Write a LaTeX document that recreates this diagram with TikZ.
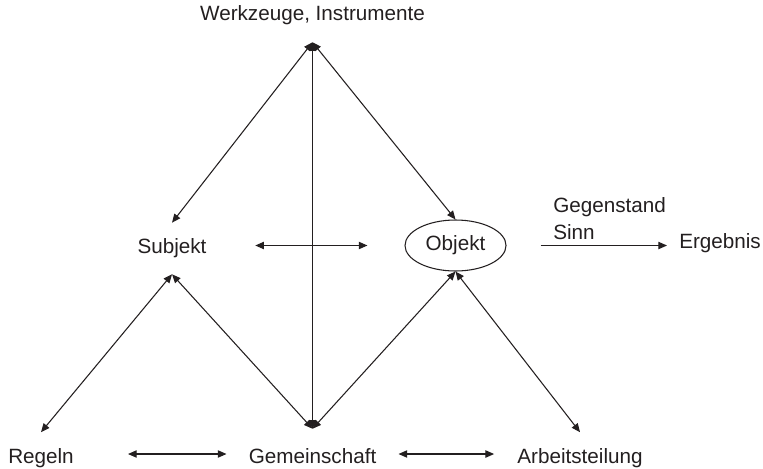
\documentclass[tikz,border=0pt]{standalone}
\usepackage{fontspec}
\setmainfont{Liberation Sans}
\usetikzlibrary{shapes.geometric, arrows.meta}
\definecolor{ink}{RGB}{35,31,32}
\tikzstyle{begriff} = [text=ink, font=\fontsize{15.5}{18}\selectfont, text height=11pt, text depth=3.3pt, inner xsep=0pt, inner ysep=12pt]
\tikzstyle{objekt} = [ellipse, draw=ink, line width=0.8pt, minimum width=75.75pt, minimum height=38.25pt, inner sep=0pt, text=ink, font=\fontsize{15.5}{18}\selectfont, text height=11pt, text depth=3.3pt]
\tikzstyle{arrow} = [draw=ink, line width=0.8pt, ->, >={Triangle[length=6.5pt,width=5.5pt]}]
\tikzstyle{biarrow} = [arrow, <->]

\begin{document}
\begin{tikzpicture}[x=0.75pt, y=-0.75pt]
        \useasboundingbox (0,0) rectangle (763,468);
        % Dreieck oben
        \node (werkzeug) [begriff, inner ysep=13.1pt] at (312.5,15) {Werkzeuge, Instrumente};
        \node (subjekt) [begriff] at (172,248.5) {Subjekt};
        \node (objekt) [objekt] at (455.5,245.5) {Objekt};
        % untere Reihe
        \node (regeln) [begriff] at (41,458) {Regeln};
        \node (gemeinschaft) [begriff, inner ysep=14.6pt] at (312.5,458) {Gemeinschaft};
        \node (arbeit) [begriff] at (580,458) {Arbeitsteilung};
        % rechts
        \node (gegenstand) [begriff, inner ysep=0pt, anchor=base west] at (553,212) {Gegenstand};
        \node (sinn) [begriff, inner ysep=0pt, anchor=base west] at (553,239) {Sinn};
        \node (ergebnis) [begriff, inner ysep=0pt, anchor=west] at (679,243) {Ergebnis};

        \draw [biarrow] (werkzeug.south) -- (subjekt.north);
        \draw [biarrow] (werkzeug.south) -- (objekt.north);
        \draw [biarrow] (werkzeug.south) -- (gemeinschaft.north);

        \draw [biarrow] (subjekt.south) -- (regeln.north);
        \draw [biarrow] (subjekt.south) -- (gemeinschaft.north);
        \draw [biarrow] (gemeinschaft.north) -- (objekt.south);
        \draw [biarrow] (objekt.south) -- (arbeit.north);

        \draw [biarrow, shorten <=36.4pt, shorten >=27.75pt] (subjekt.east |- objekt.west) -- (objekt.west);
        \draw [arrow, shorten <=25.5pt, shorten >=9pt] (objekt.east) -- (objekt.east -| ergebnis.west);

        \draw [biarrow, shorten <=40.5pt, shorten >=16.5pt] ([yshift=3pt]regeln.east) -- ([yshift=3pt]gemeinschaft.west);
        \draw [biarrow, shorten <=16.5pt, shorten >=17.25pt] ([yshift=3pt]gemeinschaft.east) -- ([yshift=3pt]arbeit.west);
      \end{tikzpicture}
\end{document}
